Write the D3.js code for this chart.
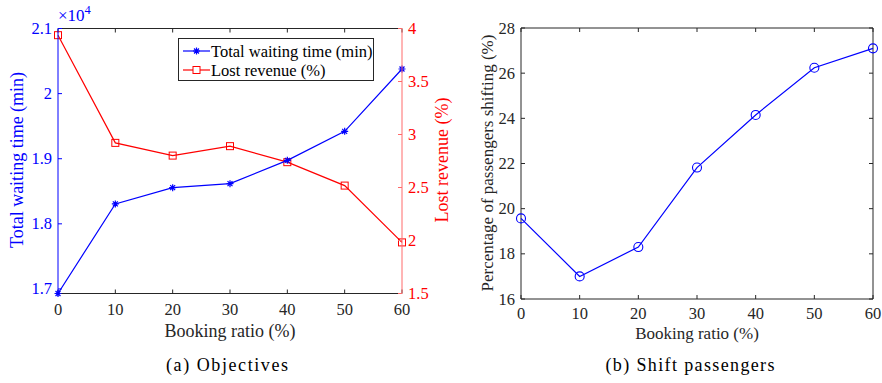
<!DOCTYPE html>
<html>
<head>
<meta charset="utf-8">
<script src="https://cdn.jsdelivr.net/npm/d3@7"></script>
<style>
  body { margin: 0; background: #fff; }
</style>
</head>
<body>
<svg id="chart" width="882" height="383"></svg>
<script>
// booking ratio (%)
const bookingRatio = [0, 10, 20, 30, 40, 50, 60];
// (a) objectives
const waitingTime = [16930, 18306, 18556, 18617, 18975, 19420, 20378];
const lostRevenue = [3.937, 2.921, 2.801, 2.890, 2.739, 2.518, 1.982];
// (b) shift passengers
const shiftPct = [19.57, 17.0, 18.3, 21.82, 24.15, 26.24, 27.1];

const xTicks = [0, 10, 20, 30, 40, 50, 60];
const waitTicks = [17000, 18000, 19000, 20000, 21000];
const revTicks = [1.5, 2, 2.5, 3, 3.5, 4];
const shiftTicks = [16, 18, 20, 22, 24, 26, 28];

const svg = d3.select("#chart");
const gray = "#262626";
const blue = "#0000ff";
const red = "#ff0000";
const serif = "'Liberation Serif', 'Times New Roman', serif";

function label(parent, str, size, color, family) {
    return parent.append("text").text(str)
        .attr("font-family", family || serif)
        .style("font-family", family || serif)
        .style("font-size", size + "px")
        .attr("fill", color);
}

function xAxis(x, yBottom, yTop, off) {
    const g = svg.append("g");
    g.append("line").attr("x1", x.range()[0]).attr("x2", x.range()[1])
        .attr("y1", yBottom).attr("y2", yBottom).attr("stroke", gray);
    g.append("line").attr("x1", x.range()[0]).attr("x2", x.range()[1])
        .attr("y1", yTop).attr("y2", yTop).attr("stroke", gray);
    xTicks.forEach(t => {
        g.append("line").attr("x1", x(t)).attr("x2", x(t))
            .attr("y1", yBottom).attr("y2", yBottom - 4).attr("stroke", gray);
        g.append("line").attr("x1", x(t)).attr("x2", x(t))
            .attr("y1", yTop).attr("y2", yTop + 4).attr("stroke", gray);
        label(g, t, 16.5, gray).attr("x", x(t)).attr("y", yBottom + off)
            .attr("text-anchor", "middle");
    });
}

function yAxis(y, xPos, ticks, color, textColor, side, fmt) {
    const g = svg.append("g");
    g.append("line").attr("x1", xPos).attr("x2", xPos)
        .attr("y1", y.range()[0]).attr("y2", y.range()[1]).attr("stroke", color);
    const dir = side === "left" ? 1 : -1;
    ticks.forEach(t => {
        g.append("line").attr("x1", xPos).attr("x2", xPos + dir * 4)
            .attr("y1", y(t)).attr("y2", y(t)).attr("stroke", color);
        label(g, fmt(t), 16.5, textColor)
            .attr("x", xPos - dir * 6).attr("y", y(t) + 5.5)
            .attr("text-anchor", side === "left" ? "end" : "start");
    });
}

function asterisk(g, cx, cy, r, color) {
    const d = [];
    for (let i = 0; i < 4; i++) {
        const a = i * Math.PI / 4;
        d.push(`M${cx - r * Math.cos(a)},${cy - r * Math.sin(a)}L${cx + r * Math.cos(a)},${cy + r * Math.sin(a)}`);
    }
    g.append("path").attr("d", d.join("")).attr("stroke", color).attr("stroke-width", 1.2);
}

// ---------- (a) Objectives ----------
const xa = d3.scaleLinear().domain([0, 60]).range([58, 402]);
const yWait = d3.scaleLinear().domain([16930, 21000]).range([293.5, 28.5]);
const yRev = d3.scaleLinear().domain([1.5, 4]).range([293.5, 28.5]);

xAxis(xa, 293.5, 28.5, 21);

const line = d3.line();

svg.append("path")
    .attr("d", line(bookingRatio.map((b, i) => [xa(b), yRev(lostRevenue[i])])))
    .attr("fill", "none").attr("stroke", red).attr("stroke-width", 1.2);
bookingRatio.forEach((b, i) => {
    svg.append("rect").attr("x", xa(b) - 3.5).attr("y", yRev(lostRevenue[i]) - 3.5)
        .attr("width", 7).attr("height", 7).attr("fill", "none").attr("stroke", red);
});

svg.append("path")
    .attr("d", line(bookingRatio.map((b, i) => [xa(b), yWait(waitingTime[i])])))
    .attr("fill", "none").attr("stroke", blue).attr("stroke-width", 1.2);
const starG = svg.append("g");
bookingRatio.forEach((b, i) => asterisk(starG, xa(b), yWait(waitingTime[i]), 3.5, blue));

yAxis(yWait, 58, waitTicks, blue, blue, "left", d => String(+(d / 10000).toFixed(1)));
yAxis(yRev, 402, revTicks, "#ff6a6a", red, "right", d => d);

const expo = label(svg, "×10", 17, blue).attr("x", 58).attr("y", 21);
expo.append("tspan").attr("dy", -7).style("font-size", "12.5px").text("4");

label(svg, "Total waiting time (min)", 18, blue)
    .attr("transform", "translate(23,160) rotate(-90)")
    .attr("text-anchor", "middle");
label(svg, "Lost revenue (%)", 18, red)
    .attr("transform", "translate(448,160) rotate(-90)")
    .attr("text-anchor", "middle");
label(svg, "Booking ratio (%)", 18, gray)
    .attr("x", 230).attr("y", 337)
    .attr("text-anchor", "middle");

// legend
const leg = svg.append("g");
leg.append("rect").attr("x", 178.5).attr("y", 38.5).attr("width", 195).attr("height", 42)
    .attr("fill", "#fff").attr("stroke", gray);
const legItems = [
    {label: "Total waiting time (min)", color: blue, mark: "star"},
    {label: "Lost revenue (%)", color: red, mark: "square"}
];
legItems.forEach((d, i) => {
    const yy = 51 + i * 19;
    leg.append("line").attr("x1", 183).attr("x2", 210).attr("y1", yy).attr("y2", yy)
        .attr("stroke", d.color).attr("stroke-width", 1.2);
    if (d.mark === "star") asterisk(leg, 196.5, yy, 3.5, d.color);
    else leg.append("rect").attr("x", 193).attr("y", yy - 3.5).attr("width", 7).attr("height", 7)
        .attr("fill", "#fff").attr("stroke", d.color);
    label(leg, d.label, 16.5, "#000").attr("x", 211).attr("y", yy + 5.5);
});

label(svg, "(a) Objectives", 18, "#000")
    .attr("x", 227).attr("y", 371)
    .attr("text-anchor", "middle").attr("textLength", 122);

// ---------- (b) Shift passengers ----------
const xb = d3.scaleLinear().domain([0, 60]).range([521, 873]);
const yShift = d3.scaleLinear().domain([16, 28]).range([299, 28]);

xAxis(xb, 299, 28, 19.5);
yAxis(yShift, 521, shiftTicks, gray, gray, "left", d => d);
svg.append("line").attr("x1", 873).attr("x2", 873).attr("y1", 28).attr("y2", 299).attr("stroke", gray);
shiftTicks.forEach(t => {
    svg.append("line").attr("x1", 873).attr("x2", 869).attr("y1", yShift(t)).attr("y2", yShift(t))
        .attr("stroke", gray);
});

svg.append("path")
    .attr("d", line(bookingRatio.map((b, i) => [xb(b), yShift(shiftPct[i])])))
    .attr("fill", "none").attr("stroke", blue).attr("stroke-width", 1.2);
bookingRatio.forEach((b, i) => {
    svg.append("circle").attr("cx", xb(b)).attr("cy", yShift(shiftPct[i])).attr("r", 4.5)
        .attr("fill", "none").attr("stroke", blue).attr("stroke-width", 1.1);
});

label(svg, "Percentage of passengers shifting (%)", 17, gray)
    .attr("transform", "translate(493,163) rotate(-90)")
    .attr("text-anchor", "middle");
label(svg, "Booking ratio (%)", 17, gray)
    .attr("x", 697).attr("y", 339)
    .attr("text-anchor", "middle");
label(svg, "(b) Shift passengers", 18, "#000")
    .attr("x", 690).attr("y", 371)
    .attr("text-anchor", "middle").attr("textLength", 169);
</script>
</body>
</html>
